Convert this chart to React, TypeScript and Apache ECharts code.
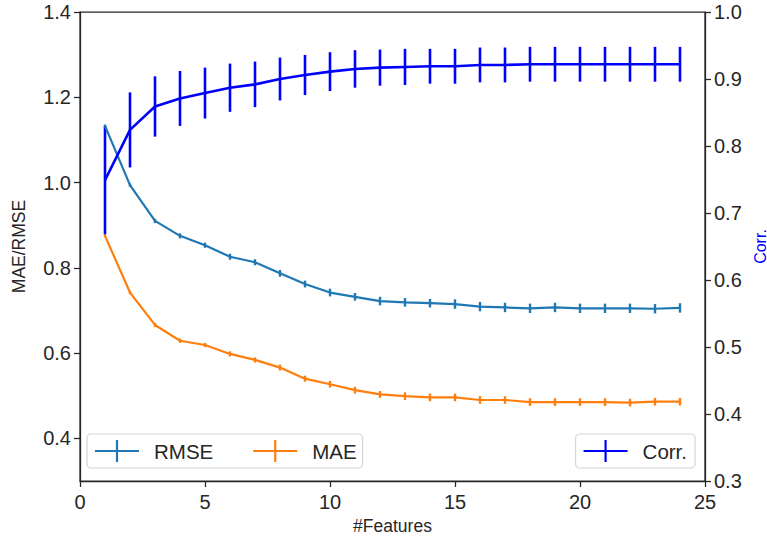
import React, { useEffect, useRef } from "react";
import * as echarts from "echarts";

const features = [1, 2, 3, 4, 5, 6, 7, 8, 9, 10, 11, 12, 13, 14, 15, 16, 17, 18, 19, 20, 21, 22, 23, 24];
const rmse = [1.133, 0.994, 0.910, 0.875, 0.853, 0.826, 0.813, 0.787, 0.762, 0.742, 0.732, 0.722, 0.719, 0.717, 0.715, 0.709, 0.707, 0.705, 0.707, 0.705, 0.705, 0.705, 0.704, 0.706];
const rmseErr = [0.003, 0.004, 0.005, 0.006, 0.006, 0.007, 0.007, 0.008, 0.008, 0.009, 0.009, 0.010, 0.010, 0.010, 0.011, 0.011, 0.011, 0.011, 0.011, 0.011, 0.011, 0.011, 0.011, 0.011];
const mae = [0.875, 0.742, 0.666, 0.629, 0.619, 0.598, 0.584, 0.566, 0.540, 0.527, 0.513, 0.503, 0.499, 0.496, 0.496, 0.490, 0.490, 0.485, 0.485, 0.485, 0.485, 0.484, 0.486, 0.486];
const maeErr = [0.003, 0.004, 0.005, 0.005, 0.005, 0.006, 0.006, 0.007, 0.007, 0.008, 0.008, 0.008, 0.009, 0.009, 0.009, 0.009, 0.009, 0.009, 0.009, 0.009, 0.009, 0.009, 0.009, 0.009];
const corr = [0.749, 0.824, 0.859, 0.871, 0.879, 0.887, 0.892, 0.900, 0.906, 0.911, 0.915, 0.917, 0.918, 0.919, 0.919, 0.921, 0.921, 0.922, 0.922, 0.922, 0.922, 0.922, 0.922, 0.922];
const corrErr = [0.081, 0.056, 0.045, 0.041, 0.038, 0.036, 0.034, 0.032, 0.030, 0.029, 0.028, 0.027, 0.027, 0.026, 0.026, 0.026, 0.026, 0.026, 0.026, 0.026, 0.026, 0.026, 0.026, 0.026];

const leftTicks = [0.4, 0.6, 0.8, 1.0, 1.2, 1.4];
const rightTicks = [0.3, 0.4, 0.5, 0.6, 0.7, 0.8, 0.9, 1.0];

const C_RMSE = "#1f77b4";
const C_MAE = "#ff7f0e";
const C_CORR = "#0000ff";
const AX = "#262626";
const FONT = "Liberation Sans, Arial, sans-serif";

const ICON = "path://M0,9.9h44v2.2h-44z M20.9,0h2.2v22h-2.2z";

function errData(vals: number[], errs: number[]) {
  return features.map((x, i) => [x, vals[i] - errs[i], vals[i] + errs[i]]);
}

function errSeries(name: string, vals: number[], errs: number[], color: string, yAxisIndex: number, width: number) {
  return {
    name,
    type: "custom",
    yAxisIndex,
    data: errData(vals, errs),
    encode: { x: 0, y: [1, 2] },
    renderItem: (params: any, api: any) => {
      const x = api.value(0);
      const lo = api.coord([x, api.value(1)]);
      const hi = api.coord([x, api.value(2)]);
      return {
        type: "line",
        shape: { x1: lo[0], y1: lo[1], x2: hi[0], y2: hi[1] },
        style: { stroke: color, lineWidth: width },
      };
    },
    silent: true,
  };
}

function lineSeries(name: string, vals: number[], color: string, yAxisIndex: number, width: number) {
  return {
    name,
    type: "line",
    yAxisIndex,
    data: features.map((x, i) => [x, vals[i]]),
    symbol: "none",
    lineStyle: { color, width },
    itemStyle: { color },
    color,
  };
}

export default function App() {
  const ref = useRef<HTMLDivElement>(null);
  useEffect(() => {
    if (!ref.current) return;
    const chart = echarts.init(ref.current, null, { renderer: "svg" });
    const legendCommon = {
      orient: "horizontal",
      itemWidth: 44,
      itemHeight: 22,
      borderColor: "#d6d6d6",
      borderWidth: 1.2,
      borderRadius: 4,
      backgroundColor: "rgba(255,255,255,0.8)",
      textStyle: { fontSize: 20.5, color: AX, fontFamily: FONT, padding: [0, 0, 0, 10] },
      symbolKeepAspect: false,
    };
    chart.setOption({
      animation: false,
      backgroundColor: "#ffffff",
      textStyle: { fontFamily: FONT },
      grid: {
        left: 80,
        right: 62,
        top: 12,
        bottom: 60,
        outerBoundsMode: "none",
        containLabel: false,
        show: true,
        borderColor: AX,
        borderWidth: 1.25,
        backgroundColor: "transparent",
      },
      legend: [
        {
          ...legendCommon,
          left: 87,
          top: 434,
          itemGap: 40,
          padding: [6, 6, 6, 8],
          data: [
            { name: "RMSE", icon: ICON },
            { name: "MAE", icon: ICON },
          ],
        },
        {
          ...legendCommon,
          right: 72,
          top: 434,
          padding: [6, 8, 6, 8],
          data: [{ name: "Corr.", icon: ICON }],
        },
      ],
      xAxis: {
        type: "value",
        min: 0,
        max: 25,
        interval: 5,
        name: "#Features",
        nameLocation: "middle",
        nameGap: 35,
        nameTextStyle: { fontSize: 17.5, color: AX, fontFamily: FONT },
        axisLine: { show: true, lineStyle: { color: AX, width: 1.25 } },
        axisTick: { show: true, length: 6, lineStyle: { color: AX, width: 1.25 } },
        axisLabel: { fontSize: 20, color: AX, margin: 11, fontFamily: FONT },
        splitLine: { show: false },
      },
      yAxis: [
        {
          type: "value",
          min: 0.3,
          max: 1.4,
          position: "left",
          name: "MAE/RMSE",
          nameLocation: "middle",
          nameRotate: 90,
          nameGap: 52,
          nameTextStyle: { fontSize: 17.5, color: AX, fontFamily: FONT },
          axisLine: { show: true, lineStyle: { color: AX, width: 1.25 } },
          axisTick: { show: true, length: 6, lineStyle: { color: AX, width: 1.25 }, customValues: leftTicks },
          axisLabel: {
            fontSize: 20,
            color: AX,
            margin: 9,
            fontFamily: FONT,
            customValues: leftTicks,
            formatter: (v: number) => v.toFixed(1),
          },
          splitLine: { show: false },
        },
        {
          type: "value",
          min: 0.3,
          max: 1.0,
          position: "right",
          name: "Corr.",
          nameLocation: "middle",
          nameRotate: 90,
          nameGap: 47,
          nameMoveOverlap: false,
          nameTextStyle: { fontSize: 16, color: C_CORR, fontFamily: FONT },
          axisLine: { show: true, lineStyle: { color: AX, width: 1.25 } },
          axisTick: { show: true, length: 6, lineStyle: { color: AX, width: 1.25 }, customValues: rightTicks },
          axisLabel: {
            fontSize: 20,
            color: AX,
            margin: 9,
            fontFamily: FONT,
            customValues: rightTicks,
            formatter: (v: number) => v.toFixed(1),
          },
          splitLine: { show: false },
        },
      ],
      series: [
        lineSeries("RMSE", rmse, C_RMSE, 0, 2.2),
        errSeries("RMSE err", rmse, rmseErr, C_RMSE, 0, 2.4),
        lineSeries("MAE", mae, C_MAE, 0, 2.2),
        errSeries("MAE err", mae, maeErr, C_MAE, 0, 2.4),
        lineSeries("Corr.", corr, C_CORR, 1, 2.6),
        errSeries("Corr. err", corr, corrErr, C_CORR, 1, 2.6),
      ],
    });
    return () => chart.dispose();
  }, []);
  return <div ref={ref} style={{ width: 767, height: 541, position: "absolute", left: 0, top: 0 }} />;
}
